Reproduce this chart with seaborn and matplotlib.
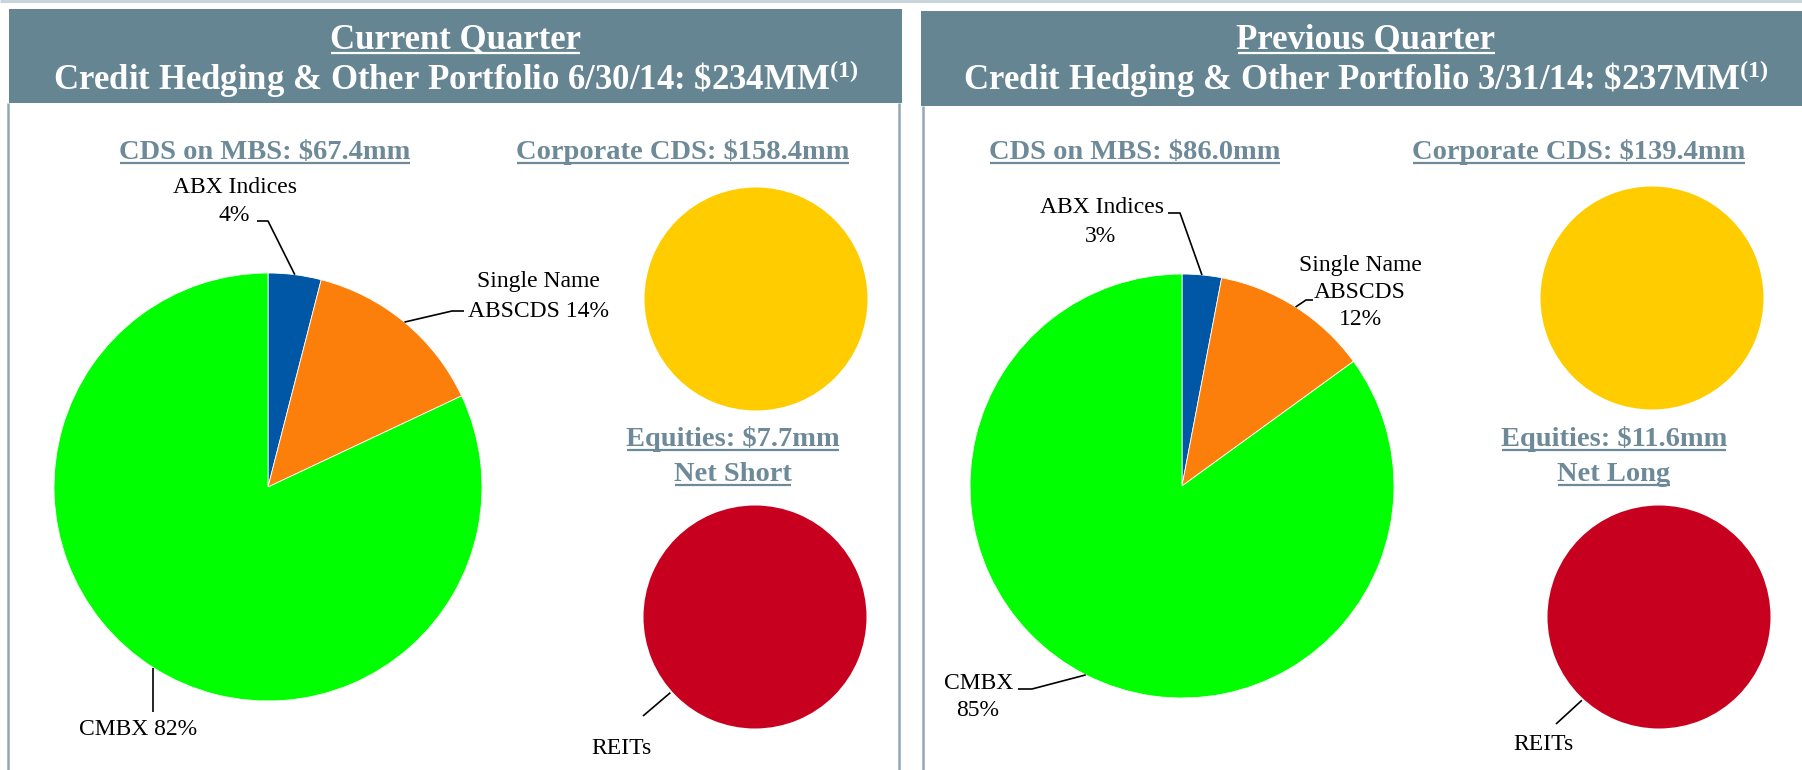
import numpy as np
import matplotlib
matplotlib.use("Agg")
import matplotlib.pyplot as plt
from matplotlib.patches import Rectangle
import seaborn as sns

# ---------------- data ----------------
mbs_labels = ["ABX Indices", "Single Name ABSCDS", "CMBX"]
cur_mbs_pct = [4, 14, 82]
prev_mbs_pct = [3, 12, 85]
cur_corporate_cds = [158.4]
prev_corporate_cds = [139.4]
cur_reits = [7.7]
prev_reits = [11.6]

panel_titles = ["Current Quarter", "Previous Quarter"]
panel_subtitles = [r"Credit Hedging & Other Portfolio 6/30/14: \$234MM$^{(1)}$",
                   r"Credit Hedging & Other Portfolio 3/31/14: \$237MM$^{(1)}$"]
mbs_titles = ["CDS on MBS: $67.4mm", "CDS on MBS: $86.0mm"]
corp_titles = ["Corporate CDS: $158.4mm", "Corporate CDS: $139.4mm"]
eq_titles = ["Equities: $7.7mm", "Equities: $11.6mm"]
eq_sides = ["Net Short", "Net Long"]

# ---------------- style ----------------
sns.set_theme(style="white")
plt.rcParams["font.family"] = ["Liberation Serif", "DejaVu Serif"]
plt.rcParams["mathtext.fontset"] = "custom"
plt.rcParams["mathtext.rm"] = "Liberation Serif:bold"
plt.rcParams["mathtext.it"] = "Liberation Serif:bold:italic"
plt.rcParams["mathtext.bf"] = "Liberation Serif:bold"

BLUE, ORANGE, GREEN = "#0057A6", "#FD7F0B", "#00FF00"
YELLOW, RED = "#FFCC00", "#C8001F"
HEADER = "#668592"
SUBCOL = "#6E8A98"
BORDER = "#93A8B5"

W, H = 1802, 770
fig = plt.figure(figsize=(W / 100, H / 100), dpi=100)
ax = fig.add_axes([0, 0, 1, 1])


def Y(y):
    return H - y


texts_to_underline = []

# top faint line
ax.plot([0, W], [Y(1), Y(1)], color="#C9D4DB", lw=2.2, solid_capstyle="butt")

# headers and borders
headers = [(9, 9, 893, 94), (921, 11, 900, 95)]
borders = [[(8, 103, 770), (899, 103, 770)], [(923, 106, 770)]]
for (x0, y0, w, h) in headers:
    ax.add_patch(Rectangle((x0, Y(y0 + h)), w, h, facecolor=HEADER, edgecolor="none", zorder=1))
for blist in borders:
    for (bx, by0, by1) in blist:
        ax.plot([bx, bx], [Y(by0), Y(by1)], color=BORDER, lw=1.8, solid_capstyle="butt")

title_cx = [455.5, 1366]
for i in range(2):
    t = ax.text(title_cx[i], Y(48), panel_titles[i], ha="center", va="baseline",
                color="white", fontsize=25, fontweight="bold", zorder=3)
    texts_to_underline.append((t, 5, 1.6, "white"))
    ax.text(title_cx[i], Y(90), panel_subtitles[i], ha="center", va="baseline",
            color="white", fontsize=25, fontweight="bold", zorder=3)

# section subtitles
mbs_cx = [265, 1135]
corp_cx = [683, 1579]
eq_cx = [733, 1614]
for i in range(2):
    for (cx, y, s) in [(mbs_cx[i], 159, mbs_titles[i]), (corp_cx[i], 159, corp_titles[i]),
                       (eq_cx[i], 446, eq_titles[i]), (eq_cx[i], 481, eq_sides[i])]:
        t = ax.text(cx, Y(y), s, ha="center", va="baseline", color=SUBCOL,
                    fontsize=20.5, fontweight="bold")
        texts_to_underline.append((t, 4, 1.6, SUBCOL))

# ---------------- pies ----------------
LABEL_FS = 17
wp = dict(edgecolor="white", linewidth=0.6)


def mbs_pie(center, r, values):
    cx, cy = center
    ax.pie(values, colors=[BLUE, ORANGE, GREEN], startangle=90, counterclock=False,
           center=(cx, Y(cy)), radius=r, wedgeprops=wp, frame=True)
    total = float(sum(values))
    mids = []
    start = 90.0
    for v in values:
        span = 360.0 * v / total
        mids.append(start - span / 2)
        start -= span
    return mids


def edge_point(center, r, ang):
    cx, cy = center
    return (cx + r * np.cos(np.radians(ang)), cy - r * np.sin(np.radians(ang)))


def leader(p0, pts):
    xs = [p0[0]] + [p[0] for p in pts]
    ys = [Y(p0[1])] + [Y(p[1]) for p in pts]
    ax.plot(xs, ys, color="black", lw=1.2, solid_capstyle="butt", zorder=4)


def label_lines(lines):
    for (x, y, s) in lines:
        ax.text(x, Y(y), s, ha="center", va="baseline", fontsize=LABEL_FS, color="black")


# left (current quarter)
cL, rL = (268, 487), 214
mids = mbs_pie(cL, rL, cur_mbs_pct)
label_lines([(235, 193, "ABX Indices"), (234, 221, f"{cur_mbs_pct[0]}%")])
leader(edge_point(cL, rL, mids[0]), [(268, 221), (257, 221)])
label_lines([(538, 287, "Single Name"), (538, 317, f"ABSCDS {cur_mbs_pct[1]}%")])
leader(edge_point(cL, rL, mids[1]), [(452, 311), (464, 311)])
label_lines([(138, 735, f"CMBX {cur_mbs_pct[2]}%")])
e = edge_point(cL, rL, mids[2])
leader(e, [(e[0], 712)])

# right (previous quarter)
cR, rR = (1182, 486), 212
mids = mbs_pie(cR, rR, prev_mbs_pct)
label_lines([(1102, 213, "ABX Indices"), (1100, 242, f"{prev_mbs_pct[0]}%")])
leader(edge_point(cR, rR, mids[0]), [(1180, 213), (1168, 213)])
label_lines([(1360, 271, "Single Name"), (1360, 298, "ABSCDS"), (1360, 325, f"{prev_mbs_pct[1]}%")])
leader(edge_point(cR, rR, mids[1]), [(1306, 300), (1313, 300)])
label_lines([(979, 689, "CMBX"), (978, 716, f"{prev_mbs_pct[2]}%")])
leader(edge_point(cR, rR, mids[2]), [(1032, 689), (1018, 689)])

# corporate CDS and REITs circles
small_r = 111.5
for (center, vals, col) in [((756, 299), cur_corporate_cds, YELLOW),
                            ((1652, 298), prev_corporate_cds, YELLOW),
                            ((755, 617), cur_reits, RED),
                            ((1659, 617), prev_reits, RED)]:
    ax.pie(vals, colors=[col], center=(center[0], Y(center[1])), radius=small_r,
           wedgeprops=dict(edgecolor="none"), frame=True)

# REITs labels
for (center, ang, end, txt) in [((755, 617), 221.8, (643, 716), (621, 754)),
                                ((1659, 617), 227.2, (1556, 724), (1543, 750))]:
    p = edge_point(center, small_r + 2, ang)
    leader(p, [end])
    label_lines([(txt[0], txt[1], "REITs")])

ax.set_xlim(0, W)
ax.set_ylim(0, H)
ax.set_aspect("equal")
ax.axis("off")

# underlines
fig.canvas.draw()
rend = fig.canvas.get_renderer()
for (t, off, lw, col) in texts_to_underline:
    bb = t.get_window_extent(rend)
    yb = t.get_position()[1] - off
    ax.plot([bb.x0 + 1, bb.x1 - 1], [yb, yb], color=col, lw=lw, solid_capstyle="butt")

fig.savefig("out.png", dpi=100, facecolor="white")
